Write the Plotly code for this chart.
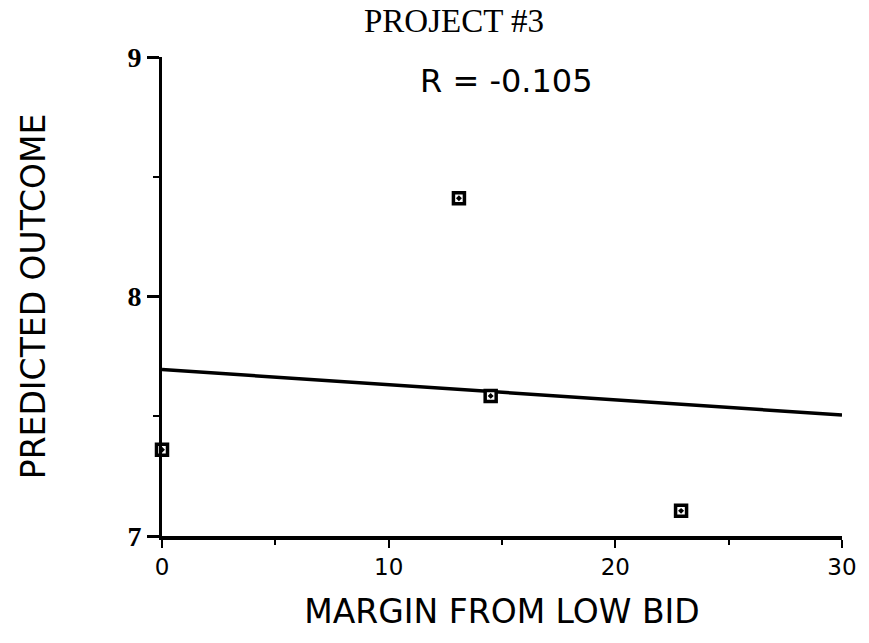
import plotly.graph_objects as go

# Observed margins and predicted outcomes
margin_from_low_bid = [0.0, 13.1, 14.5, 22.9]
predicted_outcome = [7.36, 8.41, 7.585, 7.105]

# Fitted regression line end points
fit_x = [0, 30]
fit_y = [7.695, 7.505]

x_ticks = [0, 10, 20, 30]
y_ticks = [7, 8, 9]
r_label = "R = -0.105"

fig = go.Figure()

fig.add_trace(go.Scatter(
    x=fit_x, y=fit_y, mode="lines",
    line=dict(color="black", width=3.5),
    hoverinfo="skip", showlegend=False,
))

fig.add_trace(go.Scatter(
    x=margin_from_low_bid, y=predicted_outcome, mode="markers",
    marker=dict(symbol="square-dot", size=11, color="white",
                line=dict(color="black", width=3.5)),
    showlegend=False, cliponaxis=False,
))

sans = "DejaVu Sans, Verdana, sans-serif"
serif = "Liberation Serif, Times New Roman, serif"

fig.update_layout(
    width=869, height=643,
    margin=dict(l=162, r=20, t=57, b=107),
    paper_bgcolor="white", plot_bgcolor="white",
    font=dict(family=sans, color="black"),
    xaxis=dict(
        range=[0, 30], tickvals=x_ticks, ticktext=[str(v) for v in x_ticks],
        showgrid=False, zeroline=False,
        showline=True, linecolor="black", linewidth=3.5,
        ticks="outside", ticklen=8, tickwidth=2, tickcolor="black",
        minor=dict(tickvals=[5, 15, 25], ticks="outside", ticklen=5,
                   tickwidth=1.5, tickcolor="black"),
        tickfont=dict(family=sans, size=23),
        title=dict(text="MARGIN FROM LOW BID", font=dict(family=sans, size=33),
                   standoff=22),
    ),
    yaxis=dict(
        range=[7, 9], tickvals=y_ticks, ticktext=[str(v) for v in y_ticks],
        showgrid=False, zeroline=False,
        showline=True, linecolor="black", linewidth=3,
        ticks="outside", ticklen=12, tickwidth=3, tickcolor="black",
        minor=dict(tickvals=[7.5, 8.5], ticks="outside", ticklen=6,
                   tickwidth=2, tickcolor="black"),
        tickfont=dict(family=serif, size=28, weight="bold"),
        title=dict(text="PREDICTED OUTCOME", font=dict(family=sans, size=33),
                   standoff=72),
    ),
    annotations=[
        dict(text="PROJECT #3", xref="paper", yref="paper",
             x=(457 - 162) / 687, y=1 + (57 - 21) / 479,
             xanchor="center", yanchor="middle", showarrow=False,
             font=dict(family=serif, size=33)),
        dict(text=r_label, xref="x", yref="y", x=15.2, y=8.9,
             xanchor="center", yanchor="middle", showarrow=False,
             font=dict(family=sans, size=32)),
    ],
)

fig.write_html("out.html")
